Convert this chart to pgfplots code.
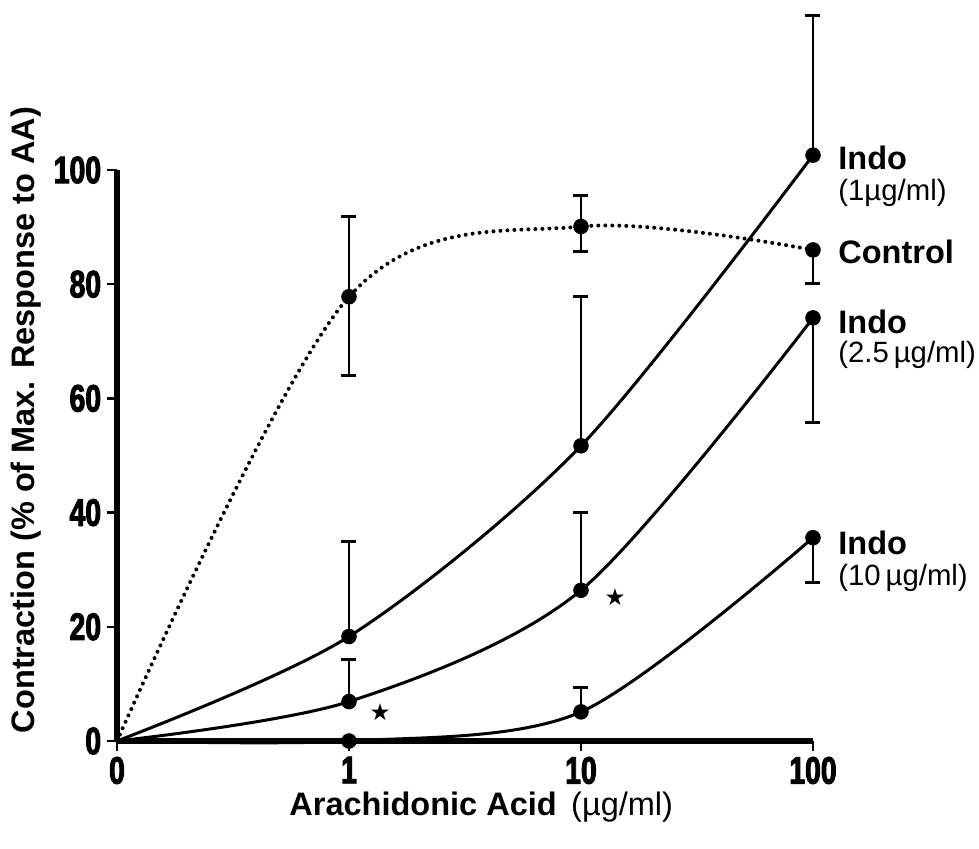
\documentclass[border=0pt]{standalone}
\usepackage{fontspec}
\setmainfont{Liberation Sans}
\newfontfamily\tickfont[FakeStretch=0.74, FakeBold=2.5]{Liberation Sans}
\newfontfamily\starfont{DejaVu Sans}
\usepackage{pgfplots}
\pgfplotsset{compat=1.18}
\begin{document}
\begin{tikzpicture}
\begin{axis}[
  at={(0,0)}, anchor=origin,
  x=139.2pt, y=3.426pt,
  xmin=0, xmax=3, ymin=0, ymax=100,
  axis lines*=left,
  axis line style={line width=3.4pt},
  clip=false,
  xtick={0,1,2,3}, xticklabels={0,1,10,100},
  ytick={0,20,40,60,80,100},
  tick style={line width=1.5pt, black},
  tick align=outside, major tick length=6pt,
  tick label style={font=\tickfont\bfseries\fontsize{23}{23}\selectfont},
  /pgf/number format/assume math mode=true,
  every axis plot/.append style={line width=1.8pt, black},
]
% Control (dotted)
\addplot[dash pattern=on 0pt off 4.2pt, line cap=round, line width=2.4pt, smooth, tension=0.55,
  mark=*, mark size=4.4pt, mark options={solid, fill=black, line width=0.5pt}, mark indices={2,3,4}]
  coordinates {(0,0) (1,77.8) (2,90.1) (3,86.0)};
% Indo 1
\addplot[smooth, tension=0.5, mark=*, mark size=4.4pt, mark options={fill=black, line width=0.5pt}, mark indices={2,3,4}]
  coordinates {(0,0) (1,18.3) (2,51.7) (3,102.6)};
% Indo 2.5
\addplot[smooth, tension=0.5, mark=*, mark size=4.4pt, mark options={fill=black, line width=0.5pt}, mark indices={2,3,4}]
  coordinates {(0,0) (1,6.9) (2,26.4) (3,74.1)};
% Indo 10
\addplot[smooth, tension=0.5, mark=*, mark size=4.4pt, mark options={fill=black, line width=0.5pt}, mark indices={2,3,4}]
  coordinates {(0,0) (1,0) (2,5.1) (3,35.6)};
% error bars up
\addplot[only marks, mark=none, error bars/.cd, y dir=plus, y explicit,
  error bar style={line width=1.2pt, black},
  error mark options={rotate=90, mark size=4.5pt, line width=1.8pt, black}]
  coordinates {(1,77.8) +- (0,14.0) (2,90.1) +- (0,5.5)
               (1,18.3) +- (0,16.7) (2,51.7) +- (0,26.1) (3,102.6) +- (0,24.5)
               (1,6.9) +- (0,7.3) (2,26.4) +- (0,13.7)
               (2,5.1) +- (0,4.2)};
% error bars down
\addplot[only marks, mark=none, error bars/.cd, y dir=minus, y explicit,
  error bar style={line width=1.2pt, black},
  error mark options={rotate=90, mark size=4.5pt, line width=1.8pt, black}]
  coordinates {(1,77.8) +- (0,13.8) (2,90.1) +- (0,4.4) (3,86.0) +- (0,5.8)
               (3,74.1) +- (0,18.4) (3,35.6) +- (0,7.9)};
% annotations
\begin{scope}[every node/.style={anchor=west, inner sep=0pt}]
\node[font=\bfseries\fontsize{19.5}{22}\selectfont] at (axis cs:3.108,102.1) {Indo};
\node[font=\fontsize{17.6}{20}\selectfont] at (axis cs:3.108,96.0) {(1µg/ml)};
\node[font=\bfseries\fontsize{19.5}{22}\selectfont] at (axis cs:3.108,85.6) {Control};
\node[font=\bfseries\fontsize{19.5}{22}\selectfont] at (axis cs:3.108,73.4) {Indo};
\node[font=\fontsize{17.6}{20}\selectfont] at (axis cs:3.108,67.6) {(2.5\,µg/ml)};
\node[font=\bfseries\fontsize{19.5}{22}\selectfont] at (axis cs:3.108,34.7) {Indo};
\node[font=\fontsize{17.6}{20}\selectfont] at (axis cs:3.108,28.5) {(10\,µg/ml)};
\end{scope}
\node[font=\starfont\fontsize{14}{14}\selectfont] at (axis cs:1.134,5.1) {★};
\node[font=\starfont\fontsize{14}{14}\selectfont] at (axis cs:2.147,25.2) {★};
% axis labels
\node[font=\fontsize{19.5}{22}\selectfont] at (axis cs:1.57,-11.6) {\textbf{Arachidonic Acid} \,(µg/ml)};
\node[rotate=90, font=\bfseries\fontsize{19.5}{22}\selectfont] at (axis cs:-0.39,56.2) {Contraction (\% of Max. Response to AA)};
\end{axis}
\pgfresetboundingbox
\path (-70.2pt,-64.8pt) rectangle (517.2pt,444.6pt);
\end{tikzpicture}
\end{document}
